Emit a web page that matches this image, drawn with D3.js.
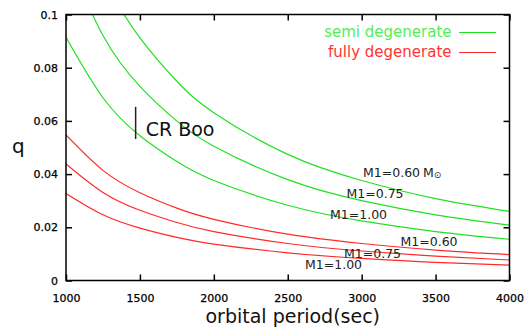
<!DOCTYPE html>
<html>
<head>
<meta charset="utf-8">
<script src="https://cdnjs.cloudflare.com/ajax/libs/d3/7.8.5/d3.min.js"></script>
<style>
  body { margin: 0; background: #fff; }
  text { font-family: 'DejaVu Sans', sans-serif; }
</style>
</head>
<body>
<div id="chart"></div>
<script>

// periods (sec) where the curves were read
var periods = [1000, 1250, 1500, 1750, 2000, 2500, 3000, 3500, 4000];

// semi degenerate secondary, q for each white dwarf mass
var semi060 = [0.1533, 0.1152, 0.0912, 0.0749, 0.0631, 0.0474, 0.0376, 0.0308, 0.0260];
var semi075 = [0.1226, 0.0921, 0.0730, 0.0599, 0.0505, 0.0379, 0.0300, 0.0247, 0.0208];
var semi100 = [0.0914, 0.0687, 0.0544, 0.0447, 0.0376, 0.0283, 0.0224, 0.0184, 0.0155];

// fully degenerate secondary
var full060 = [0.0547, 0.0414, 0.0330, 0.0272, 0.0230, 0.0174, 0.0139, 0.0114, 0.0097];
var full075 = [0.0438, 0.0331, 0.0264, 0.0218, 0.0184, 0.0139, 0.0111, 0.0092, 0.0077];
var full100 = [0.0327, 0.0247, 0.0197, 0.0162, 0.0137, 0.0104, 0.0083, 0.0068, 0.0058];

// CR Boo: period and q range
var crBooPeriod = 1471;
var crBooQ = [0.0532, 0.0653];

var xTicks = [1000, 1500, 2000, 2500, 3000, 3500, 4000];
var yTicks = [0, 0.02, 0.04, 0.06, 0.08, 0.1];
var yTickLabels = ['0', '0.02', '0.04', '0.06', '0.08', '0.1'];

var green = '#22e022',
    red = '#ff2a2a';

var createChart = () => {

  var width = 532,
      height = 330,
      margin = {top: 14.5, right: 22.5, bottom: 49.5, left: 66};

  var w = width - margin.left - margin.right,
      h = height - margin.top - margin.bottom;

  var svg = d3.select('#chart').append('svg')
    .attr('width', width)
    .attr('height', height);

  var g = svg.append('g')
    .attr('transform', 'translate(' + margin.left + ',' + margin.top + ')');

  var x = d3.scaleLinear().domain([1000, 4000]).range([0, w]),
      y = d3.scaleLinear().domain([0, 0.1]).range([h, 0]);

  // clip curves to the plot box
  svg.append('clipPath').attr('id', 'clip')
    .append('rect').attr('width', w).attr('height', h);

  var line = d3.line()
    .curve(d3.curveNatural)
    .x(function(d) { return x(d[0]); })
    .y(function(d) { return y(d[1]); });

  var curves = [
    {q: semi060, color: green},
    {q: semi075, color: green},
    {q: semi100, color: green},
    {q: full060, color: red},
    {q: full075, color: red},
    {q: full100, color: red}
  ];

  g.append('g').attr('clip-path', 'url(#clip)')
    .selectAll('path')
    .data(curves)
    .enter()
    .append('path')
    .attr('d', function(c) { return line(periods.map(function(p, i) { return [p, c.q[i]]; })); })
    .style('fill', 'none')
    .style('stroke', function(c) { return c.color; })
    .style('stroke-width', 1.2);

  // axes, ticks inside and mirrored
  var tick = 6;
  g.append('g')
    .attr('transform', 'translate(0,' + h + ')')
    .call(d3.axisBottom(x).tickValues(xTicks).tickSizeInner(-tick).tickSizeOuter(0).tickPadding(14).tickFormat(d3.format('d')));
  g.append('g')
    .call(d3.axisTop(x).tickValues(xTicks).tickSizeInner(-tick).tickSizeOuter(0).tickFormat(''));
  g.append('g')
    .call(d3.axisLeft(y).tickValues(yTicks).tickSizeInner(-tick).tickSizeOuter(0).tickPadding(8)
      .tickFormat(function(d, i) { return yTickLabels[i]; }));
  g.append('g')
    .attr('transform', 'translate(' + w + ',0)')
    .call(d3.axisRight(y).tickValues(yTicks).tickSizeInner(-tick).tickSizeOuter(0).tickFormat(''));

  g.selectAll('.domain').remove();
  g.selectAll('.tick line').style('stroke', '#000').style('stroke-width', 1.5);
  g.selectAll('.tick text')
    .style('font-size', '11px')
    .style('fill', '#000')
    .style('stroke', '#000')
    .style('stroke-width', 0.25);

  // frame
  g.append('rect')
    .attr('width', w)
    .attr('height', h)
    .style('fill', 'none')
    .style('stroke', '#000')
    .style('stroke-width', 1.5);

  // axis titles
  svg.append('text')
    .attr('x', margin.left + w / 2 + 5)
    .attr('y', 323)
    .attr('text-anchor', 'middle')
    .style('font-size', '19px')
    .style('fill', '#111')
    .text('orbital period(sec)');

  svg.append('text')
    .attr('x', 12)
    .attr('y', 153)
    .style('font-size', '20px')
    .style('fill', '#111')
    .text('q');

  // CR Boo marker
  g.append('line')
    .attr('x1', x(crBooPeriod)).attr('x2', x(crBooPeriod))
    .attr('y1', y(crBooQ[0])).attr('y2', y(crBooQ[1]))
    .style('stroke', '#222')
    .style('stroke-width', 1.5);

  g.append('text')
    .attr('x', x(crBooPeriod) + 10)
    .attr('y', y(crBooQ[0]) - 3)
    .style('font-size', '19px')
    .style('fill', '#111')
    .text('CR Boo');

  // mass labels
  var labels = [
    {t: 'M1=0.60', x: 363, y: 177, sun: true},
    {t: 'M1=0.75', x: 346.5, y: 198},
    {t: 'M1=1.00', x: 330, y: 219},
    {t: 'M1=0.60', x: 400.5, y: 246},
    {t: 'M1=0.75', x: 344, y: 257.5},
    {t: 'M1=1.00', x: 305, y: 269}
  ];

  labels.forEach(function(l) {
    var txt = svg.append('text')
      .attr('x', l.x)
      .attr('y', l.y)
      .style('font-size', '12.5px')
      .style('fill', '#222')
      .text(l.t);
    if (l.sun) {
      txt.append('tspan').attr('dx', 3).text('M');
      txt.append('tspan').attr('dy', 1).style('font-size', '9px').text('\u2299');
    }
  });

  // legend
  var legend = [
    {t: 'semi degenerate', color: green, text: '#55ee55', y: 37},
    {t: 'fully degenerate', color: red, text: '#ff3333', y: 57}
  ];

  legend.forEach(function(l) {
    svg.append('text')
      .attr('x', 451.5)
      .attr('y', l.y)
      .attr('text-anchor', 'end')
      .style('font-size', '15px')
      .style('fill', l.text)
      .text(l.t);
    svg.append('line')
      .attr('x1', 459).attr('x2', 496)
      .attr('y1', l.y - 4.5).attr('y2', l.y - 4.5)
      .style('stroke', l.color)
      .style('stroke-width', 1.2);
  });
};

createChart();
</script>
</body>
</html>
